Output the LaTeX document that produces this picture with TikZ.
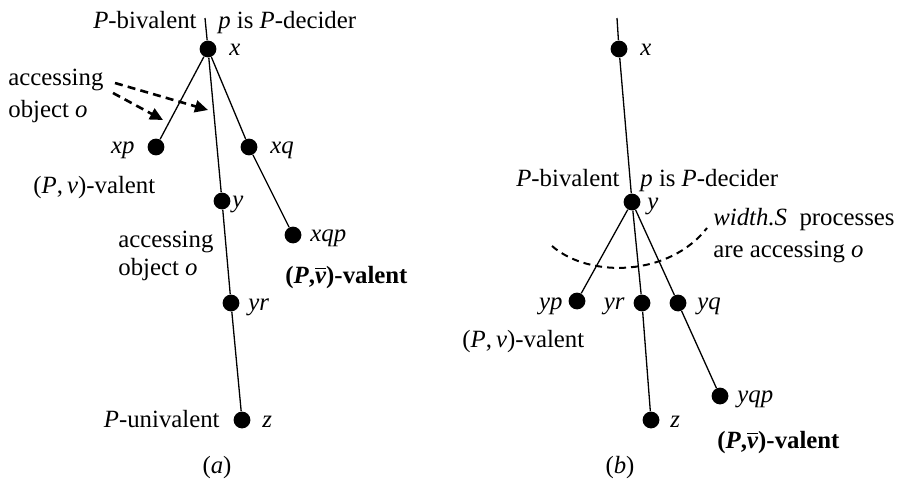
\documentclass[tikz,border=0pt]{standalone}
\usepackage{fontspec}
\setmainfont{Liberation Serif}
\usetikzlibrary{arrows.meta}
\newcommand\vbar{$\overline{\mbox{\textit{v}}}$}
\tikzset{
	dotnode/.style={
			circle,
			fill=black,
			minimum size=8.4pt,
			inner sep=0pt
		},
	lbl/.style={
			inner sep=0pt,
			font=\fontsize{12.4}{16}\selectfont
		},
	boldlbl/.style={
			lbl,
			font=\fontsize{12.4}{16}\selectfont\bfseries
		},
	branch/.style={
			line width=0.65pt
		},
	accessarrow/.style={
			line width=1.3pt,
			dash pattern=on 4pt off 2.6pt,
			-{Triangle[length=6.5pt,width=6pt]}
		},
	accessarc/.style={
			line width=1pt,
			dash pattern=on 3.5pt off 2.5pt
		}
}

\begin{document}
\begin{tikzpicture}[x=0.5pt, y=-0.5pt]
\useasboundingbox (0,0) rectangle (901,482);

% (a)
\coordinate (a0) at (205,18);
\node[dotnode] (ax) at (208,49) {};
\node[dotnode] (axp) at (156,147) {};
\node[dotnode] (axq) at (249,147) {};
\node[dotnode] (ay) at (222,201) {};
\node[dotnode] (axqp) at (293,235) {};
\node[dotnode] (ayr) at (231,303) {};
\node[dotnode] (az) at (242,420) {};

\node[lbl, anchor=base east] (abiv) at (197,28) {\textit{P}-bivalent};
\node[lbl, anchor=base west] (adec) at (218,28) {\textit{p} is \textit{P}-decider};
\node[lbl, anchor=base west] (axl) at (229,55) {\textit{x}};
\node[lbl, anchor=base east] (axpl) at (135,153) {\textit{xp}};
\node[lbl, anchor=base west] (axql) at (270,153) {\textit{xq}};
\node[lbl, anchor=base west] (ayl) at (232,207) {\textit{y}};
\node[lbl, anchor=base west] (axqpl) at (310,241) {\textit{xqp}};
\node[lbl, anchor=base west] (ayrl) at (248,310) {\textit{yr}};
\node[lbl, anchor=base west] (azl) at (262,427) {\textit{z}};
\node[lbl, anchor=base east] (auni) at (220,427) {\textit{P}-univalent};
\node[lbl, anchor=base west] (avalv) at (33,193) {(\textit{P},\,\textit{v})-valent};
\node[boldlbl, anchor=base west] (avalnv) at (285,283) {(\textit{P},\vbar)-valent};
\node[lbl, anchor=base west, align=left] (aacc1) at (8,117) {accessing\\object \textit{o}};
\node[lbl, anchor=base west, align=left] (aacc2) at (118,275) {accessing\\[-2pt]object \textit{o}};
\node[lbl, anchor=base] (acap) at (217,473) {(\textit{a})};

\coordinate (aarr1s) at (115,83);
\coordinate (aarr1e) at (208,110);
\coordinate (aarr2s) at (113,93);
\coordinate (aarr2e) at (163,120);

\draw[branch] (a0) -- (ax);
\draw[branch] (ax) -- (axp);
\draw[branch] (ax) -- (ay);
\draw[branch] (ax) -- (axq);
\draw[branch] (axq) -- (axqp);
\draw[branch] (ay) -- (ayr);
\draw[branch] (ayr) -- (az);

\draw[accessarrow] (aarr1s) -- (aarr1e);
\draw[accessarrow] (aarr2s) -- (aarr2e);

% (b)
\coordinate (b0) at (617,18);
\node[dotnode] (bx) at (619,49) {};
\node[dotnode] (by) at (632,202) {};
\node[dotnode] (byp) at (577,301) {};
\node[dotnode] (byr) at (642,303) {};
\node[dotnode] (byq) at (678,303) {};
\node[dotnode] (byqp) at (720,396) {};
\node[dotnode] (bz) at (651,420) {};

\node[lbl, anchor=base west] (bxl) at (640,55) {\textit{x}};
\node[lbl, anchor=base east] (bbiv) at (620,186) {\textit{P}-bivalent};
\node[lbl, anchor=base west] (bdec) at (640,186) {\textit{p} is \textit{P}-decider};
\node[lbl, anchor=base west] (byl) at (647,209) {\textit{y}};
\node[lbl, anchor=base west, align=left] (bacc) at (713,257) {\textit{width.S}\enspace processes\\are accessing \textit{o}};
\node[lbl, anchor=base east] (bypl) at (563,309) {\textit{yp}};
\node[lbl, anchor=base east] (byrl) at (625,309) {\textit{yr}};
\node[lbl, anchor=base west] (byql) at (697,309) {\textit{yq}};
\node[lbl, anchor=base west] (bvalv) at (462,347) {(\textit{P},\,\textit{v})-valent};
\node[lbl, anchor=base west] (byqpl) at (737,402) {\textit{yqp}};
\node[lbl, anchor=base west] (bzl) at (670,427) {\textit{z}};
\node[boldlbl, anchor=base west] (bvalnv) at (717,448) {(\textit{P},\vbar)-valent};
\node[lbl, anchor=base] (bcap) at (620,473) {(\textit{b})};

\coordinate (barcl) at (552,246);
\coordinate (barcr) at (707,228);

\draw[branch] (b0) -- (bx);
\draw[branch] (bx) -- (by);
\draw[branch] (by) -- (byp);
\draw[branch] (by) -- (byr);
\draw[branch] (by) -- (byq);
\draw[branch] (byr) -- (bz);
\draw[branch] (byq) -- (byqp);

\draw[accessarc] (barcl) .. controls (590,279) and (670,276) .. (barcr);
\end{tikzpicture}
\end{document}
